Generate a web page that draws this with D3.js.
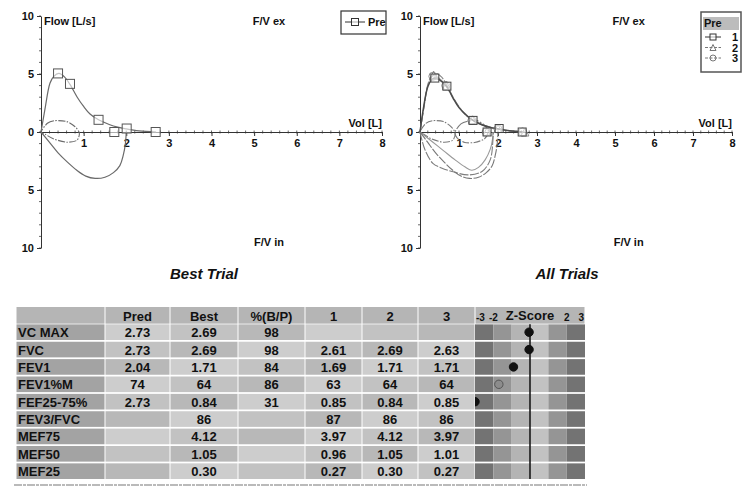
<!DOCTYPE html>
<html>
<head>
<meta charset="utf-8">
<script src="https://cdn.jsdelivr.net/npm/d3@7"></script>
<style>
  body { margin: 0; background: #fff; }
  svg { display: block; font-family: "Liberation Sans", Arial, sans-serif; }
  .tick text { font-weight: bold; font-size: 11px; fill: #111; }
  .lbl { font-weight: bold; font-size: 11px; fill: #111; }
</style>
</head>
<body>
<svg id="chart" width="750" height="494"></svg>
<script>
// ---- data -----------------------------------------------------------------
const volTicks = [1, 2, 3, 4, 5, 6, 7, 8];
const flowTicks = [-10, -5, 0, 5, 10];

// Best trial (left panel): [volume L, flow L/s]; inspiration drawn negative
const bestExp = [[0,0],[0.09,1.9],[0.21,4.2],[0.3,4.8],[0.42,5.05],[0.55,4.75],[0.68,4.1],[0.85,3.0],[1.0,2.2],[1.15,1.55],[1.35,1.05],[1.6,0.65],[1.8,0.42],[2.0,0.27],[2.3,0.1],[2.7,0]];
const bestMarks = [[0.4,5.05],[0.68,4.15],[1.35,1.05],[1.72,0],[2.01,0.3],[2.69,0]];
const bestInsp = [[0,0],[0.2,-0.9],[0.4,-1.8],[0.62,-2.6],[0.84,-3.3],[1.05,-3.8],[1.27,-4.0],[1.5,-3.9],[1.7,-3.5],[1.85,-2.9],[1.93,-2.0],[1.98,-1.0],[2.0,0]];
const bestTidal = [[0,0],[0.15,0.75],[0.33,0.98],[0.6,0.9],[0.8,0.45],[0.9,-0.1],[0.84,-0.72],[0.6,-0.88],[0.3,-0.6],[0.1,-0.2]];

// All trials (right panel)
const t1Exp = [[0,0],[0.1,2.3],[0.2,3.9],[0.3,4.5],[0.38,4.65],[0.5,4.5],[0.69,3.9],[0.85,2.9],[1.0,2.1],[1.2,1.4],[1.36,1.0],[1.6,0.6],[1.8,0.4],[2.03,0.25],[2.3,0.1],[2.62,0]];
const t1Marks = [[0.38,4.65],[0.69,3.95],[1.36,1.0],[1.72,0],[2.03,0.3],[2.62,0]];
const t1Insp = [[0,0],[0.3,-0.8],[0.6,-1.6],[0.9,-2.4],[1.15,-3.0],[1.33,-3.3],[1.5,-3.05],[1.67,-2.4],[1.8,-1.5],[1.86,-0.6],[1.87,0]];
const t1Tidal = [[0.9,0],[1.05,0.7],[1.25,0.95],[1.45,1.0],[1.65,0.6],[1.75,0.05],[1.65,-0.6],[1.4,-0.9],[1.15,-0.9],[0.95,-0.5]];

const t2Exp = bestExp;
const t2Marks = [[0.35,4.9],[0.68,4.0],[1.35,1.05],[1.72,0.05],[2.0,0.3],[2.69,0]];
const t2Insp = bestInsp;
const t2Tidal = bestTidal;

const t3Exp = [[0,0],[0.1,2.1],[0.2,4.0],[0.33,4.85],[0.5,4.6],[0.66,4.0],[0.85,2.95],[1.0,2.15],[1.2,1.45],[1.33,1.05],[1.6,0.6],[1.8,0.4],[2.0,0.25],[2.3,0.1],[2.63,0]];
const t3Marks = [[0.33,4.8],[0.66,4.0],[1.33,1.0],[1.7,0],[2.0,0.25],[2.63,0]];
const t3Insp = [[0,0],[0.05,-0.7],[0.13,-1.55],[0.33,-2.7],[0.55,-3.1],[0.82,-3.4],[1.23,-3.7],[1.59,-3.4],[1.8,-2.4],[1.87,-0.7],[1.88,0]];

// Table
const columns = ["Pred", "Best", "%(B/P)", "1", "2", "3"];
const params = ["VC MAX", "FVC", "FEV1", "FEV1%M", "FEF25-75%", "FEV3/FVC", "MEF75", "MEF50", "MEF25"];
const predVals = ["2.73", "2.73", "2.04", "74", "2.73", "", "", "", ""];
const bestVals = ["2.69", "2.69", "1.71", "64", "0.84", "86", "4.12", "1.05", "0.30"];
const pctVals  = ["98", "98", "84", "86", "31", "", "", "", ""];
const trial1   = ["", "2.61", "1.69", "63", "0.85", "87", "3.97", "0.96", "0.27"];
const trial2   = ["", "2.69", "1.71", "64", "0.84", "86", "4.12", "1.05", "0.30"];
const trial3   = ["", "2.63", "1.71", "64", "0.85", "86", "3.97", "1.01", "0.27"];
const zScores  = [-0.05, -0.05, -0.9, -1.7, -3.0, null, null, null, null];
const zBands   = [-3, -2, -1, 0, 1, 2];
const zLabels  = [-3, -2, 2, 3];

// ---- drawing --------------------------------------------------------------
const svg = d3.select('#chart');
const LINE = '#6a6a6a';

function panel(x0, x1, title, titleX) {
  const x = d3.scaleLinear().domain([0, 8]).range([x0, x1]);
  const y = d3.scaleLinear().domain([-10, 10]).range([248, 16]);
  const g = svg.append('g');

  // minor y ticks
  g.append('g').selectAll('line')
    .data(d3.range(-10, 11, 1))
    .join('line')
    .attr('x1', x(0) - 2).attr('x2', x(0))
    .attr('y1', d => y(d)).attr('y2', d => y(d))
    .attr('stroke', '#444').attr('stroke-width', 0.8);

  // minor x ticks
  g.append('g').selectAll('line')
    .data(d3.range(0, 8.01, 0.2))
    .join('line')
    .attr('x1', d => x(d)).attr('x2', d => x(d))
    .attr('y1', y(0) - 1.5).attr('y2', y(0) + 1.5)
    .attr('stroke', '#444').attr('stroke-width', 0.8);

  const yAxis = d3.axisLeft(y).tickValues(flowTicks)
    .tickFormat(d => Math.abs(d)).tickSize(4).tickSizeOuter(0);
  g.append('g').attr('transform', `translate(${x(0)},0)`).call(yAxis)
    .call(a => a.select('.domain').attr('stroke', '#333'))
    .call(a => a.selectAll('.tick line').attr('stroke', '#333'));

  const xAxis = d3.axisBottom(x).tickValues(volTicks).tickSize(4).tickSizeOuter(0);
  g.append('g').attr('transform', `translate(0,${y(0)})`).call(xAxis)
    .call(a => a.select('.domain').attr('stroke', '#333'))
    .call(a => a.selectAll('.tick line').attr('stroke', '#333'));

  g.append('text').attr('class', 'lbl').attr('x', x(0) + 3).attr('y', y(10) + 9).text('Flow [L/s]');
  g.append('text').attr('class', 'lbl').attr('x', x(5.35)).attr('y', y(10) + 9)
    .attr('text-anchor', 'middle').text('F/V ex');
  g.append('text').attr('class', 'lbl').attr('x', x(5.35)).attr('y', y(-10) - 2)
    .attr('text-anchor', 'middle').text('F/V in');
  g.append('text').attr('class', 'lbl').attr('x', x(8)).attr('y', y(0) - 5)
    .attr('text-anchor', 'end').text('Vol [L]');

  svg.append('text')
    .attr('x', titleX).attr('y', 279)
    .attr('text-anchor', 'middle')
    .attr('font-size', 15).attr('font-weight', 'bold').attr('font-style', 'italic')
    .attr('fill', '#111')
    .text(title);

  return { g, x, y };
}

function curve(p, data, style, closed) {
  const gen = d3.line().x(d => p.x(d[0])).y(d => p.y(d[1]))
    .curve(closed ? d3.curveCardinalClosed.tension(0.2) : d3.curveCatmullRom.alpha(0.5));
  p.g.append('path').datum(data)
    .attr('d', gen)
    .attr('fill', 'none')
    .attr('stroke', style.color)
    .attr('stroke-width', style.width)
    .attr('stroke-dasharray', style.dash || null);
}

function symbol(sel, type, cx, cy, size, color) {
  if (type === 'square') {
    sel.append('rect').attr('x', cx - size / 2).attr('y', cy - size / 2)
      .attr('width', size).attr('height', size)
      .attr('fill', '#fff').attr('fill-opacity', 0.6).attr('stroke', color).attr('stroke-width', 1);
  } else if (type === 'triangle') {
    sel.append('path')
      .attr('d', `M${cx},${cy - size / 2}L${cx + size / 2},${cy + size / 2}L${cx - size / 2},${cy + size / 2}Z`)
      .attr('fill', 'none').attr('stroke', color).attr('stroke-width', 1);
  } else {
    sel.append('circle').attr('cx', cx).attr('cy', cy).attr('r', size / 2)
      .attr('fill', 'none').attr('stroke', color).attr('stroke-width', 1);
  }
}

function markers(p, data, type, color, size) {
  data.forEach(d => symbol(p.g, type, p.x(d[0]), p.y(d[1]), size, color));
}

// Left panel: best trial
const left = panel(41, 382, 'Best Trial', 204);
curve(left, bestTidal, { color: LINE, width: 1.1, dash: '7 1.5 1.5 1.5' }, true);
curve(left, bestInsp, { color: LINE, width: 1.2 });
curve(left, bestExp, { color: LINE, width: 1.2 });
markers(left, bestMarks, 'square', '#555', 9);

// left legend
svg.append('rect').attr('x', 341).attr('y', 11).attr('width', 45).attr('height', 23)
  .attr('fill', '#fff').attr('stroke', '#333').attr('stroke-width', 1.2);
svg.append('line').attr('x1', 345).attr('x2', 365).attr('y1', 22).attr('y2', 22).attr('stroke', '#333');
symbol(svg, 'square', 355, 22, 7, '#333');
svg.append('text').attr('class', 'lbl').attr('x', 368).attr('y', 26).text('Pre');

// Right panel: all trials
const right = panel(420, 732, 'All Trials', 567);
curve(right, t2Tidal, { color: '#7a7a7a', width: 1.1, dash: '7 1.5 1.5 1.5' }, true);
curve(right, t1Tidal, { color: '#7a7a7a', width: 1.1, dash: '7 1.5 1.5 1.5' }, true);
curve(right, t1Insp, { color: '#999', width: 1.1 });
curve(right, t3Insp, { color: '#7d7d7d', width: 1.1, dash: '9 1.5' });
curve(right, t2Insp, { color: '#777', width: 1.1, dash: '9 1.5' });
curve(right, t3Exp, { color: '#909090', width: 1.1, dash: '9 1.5' });
curve(right, t2Exp, { color: '#888', width: 1.1, dash: '9 1.5' });
curve(right, t1Exp, { color: '#4a4a4a', width: 1.5 });
markers(right, t3Marks, 'circle', '#888', 8);
markers(right, t2Marks, 'triangle', '#888', 8);
markers(right, t1Marks, 'square', '#444', 8);

// right legend
const legItems = [
  { name: '1', type: 'square', color: '#333', dash: null },
  { name: '2', type: 'triangle', color: '#777', dash: '3 1.5' },
  { name: '3', type: 'circle', color: '#777', dash: '3 1.5' }
];
svg.append('rect').attr('x', 701).attr('y', 12).attr('width', 40).attr('height', 60)
  .attr('fill', '#fff').attr('stroke', '#555').attr('stroke-width', 1.5);
svg.append('rect').attr('x', 703).attr('y', 17).attr('width', 36).attr('height', 13).attr('fill', '#bcbcbc');
svg.append('text').attr('class', 'lbl').attr('x', 704).attr('y', 27).attr('font-size', 10).text('Pre');
const legY = d3.scalePoint().domain(legItems.map(d => d.name)).range([37, 58]);
legItems.forEach(it => {
  const cy = legY(it.name);
  svg.append('line').attr('x1', 705).attr('x2', 721).attr('y1', cy).attr('y2', cy)
    .attr('stroke', it.color).attr('stroke-dasharray', it.dash);
  symbol(svg, it.type, 713, cy, 6, it.color);
  svg.append('text').attr('class', 'lbl').attr('x', 732).attr('y', cy + 4).text(it.name);
});

// ---- table ----------------------------------------------------------------
const colEdges = [16, 105, 170, 238, 305, 362, 418, 475, 585];
const rowY = d3.scaleBand().domain(d3.range(params.length + 1)).range([307, 479]).paddingInner(0.1).paddingOuter(0);
const colVals = [predVals, bestVals, pctVals, trial1, trial2, trial3];
const cellShade = ['#cdcdcd', '#c2c2c2', '#b8b8b8'];

const tbl = svg.append('g');
// header row
for (let c = 0; c < colEdges.length - 1; c++) {
  tbl.append('rect')
    .attr('x', colEdges[c] + 0.5).attr('y', 307)
    .attr('width', colEdges[c + 1] - colEdges[c] - 1).attr('height', rowY.bandwidth() + 1)
    .attr('fill', '#b5b5b5');
}
columns.forEach((name, c) => {
  tbl.append('text').attr('x', (colEdges[c + 1] + colEdges[c + 2]) / 2).attr('y', 321)
    .attr('text-anchor', 'middle').attr('font-size', 13).attr('font-weight', 'bold').attr('fill', '#111')
    .text(name);
});

params.forEach((p, r) => {
  const y0 = rowY(r + 1);
  const h = rowY.bandwidth();
  tbl.append('rect').attr('x', colEdges[0] + 0.5).attr('y', y0)
    .attr('width', colEdges[1] - colEdges[0] - 1).attr('height', h).attr('fill', '#a3a3a3');
  tbl.append('text').attr('x', colEdges[0] + 2).attr('y', y0 + h / 2 + 5)
    .attr('font-size', 13).attr('font-weight', 'bold').attr('fill', '#111').text(p);
  colVals.forEach((vals, c) => {
    const xa = colEdges[c + 1], xb = colEdges[c + 2];
    tbl.append('rect').attr('x', xa + 0.5).attr('y', y0)
      .attr('width', xb - xa - 1).attr('height', h)
      .attr('fill', cellShade[(r + c) % 3]);
    tbl.append('text').attr('x', (xa + xb) / 2).attr('y', y0 + h / 2 + 5)
      .attr('text-anchor', 'middle').attr('font-size', 13).attr('font-weight', 'bold').attr('fill', '#111')
      .text(vals[r]);
  });
});

// z-score column
const zx = d3.scaleLinear().domain([-3, 3]).range([colEdges[7], colEdges[8]]);
const bandColor = d3.scaleOrdinal().domain(zBands).range(['#737373', '#959595', '#b4b4b4', '#c2c2c2', '#959595', '#737373']);
const zTop = rowY(1), zBottom = rowY(params.length) + rowY.bandwidth();
const zg = svg.append('g');
zBands.forEach(b => {
  zg.append('rect').attr('x', zx(b)).attr('y', zTop)
    .attr('width', zx(b + 1) - zx(b)).attr('height', zBottom - zTop)
    .attr('fill', bandColor(b));
});
// white row separators across the z column
params.forEach((p, r) => {
  if (r === 0) return;
  zg.append('rect').attr('x', zx(-3)).attr('y', rowY(r + 1) - rowY.step() * 0.1)
    .attr('width', zx(3) - zx(-3)).attr('height', rowY.step() * 0.1).attr('fill', '#fff');
});
zg.append('line').attr('x1', zx(0)).attr('x2', zx(0)).attr('y1', zTop).attr('y2', zBottom)
  .attr('stroke', '#1a1a1a').attr('stroke-width', 1.6);
zLabels.forEach(d => {
  zg.append('text')
    .attr('x', d === -3 ? zx(d) + 1 : d === 3 ? zx(d) - 1 : zx(d))
    .attr('y', 321)
    .attr('text-anchor', d === -3 ? 'start' : d === 3 ? 'end' : 'middle')
    .attr('font-size', 10).attr('font-weight', 'bold').attr('fill', '#111').text(d);
});
zg.append('text').attr('x', zx(0)).attr('y', 320).attr('text-anchor', 'middle')
  .attr('font-size', 13).attr('font-weight', 'bold').attr('fill', '#111').text('Z-Score');

zg.append('clipPath').attr('id', 'zclip').append('rect')
  .attr('x', zx(-3)).attr('y', zTop).attr('width', zx(3) - zx(-3)).attr('height', zBottom - zTop);
zScores.forEach((z, r) => {
  if (z === null) return;
  zg.append('circle')
    .attr('cx', zx(z)).attr('cy', rowY(r + 1) + rowY.bandwidth() / 2)
    .attr('r', 4.2)
    .attr('clip-path', 'url(#zclip)')
    .attr('fill', r === 3 ? '#8c8c8c' : '#111')
    .attr('stroke', r === 3 ? '#555' : '#111');
});

// dashed rule under the table
svg.append('line').attr('x1', 14).attr('x2', 587).attr('y1', 485).attr('y2', 485)
  .attr('stroke', '#777').attr('stroke-width', 1.2).attr('stroke-dasharray', '8 1 3 1');
</script>
</body>
</html>
